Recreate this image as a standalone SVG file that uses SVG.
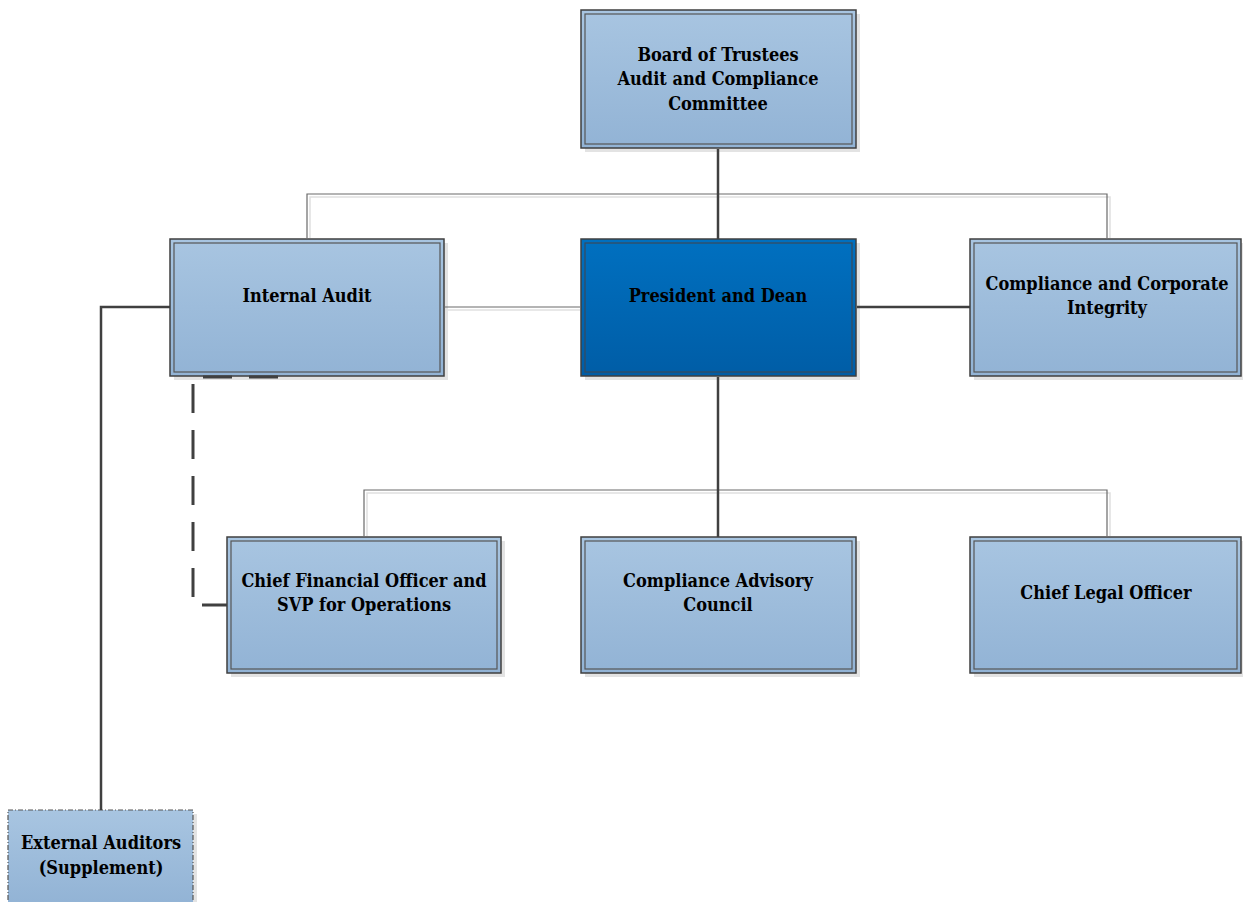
<svg xmlns="http://www.w3.org/2000/svg" width="1243" height="902" viewBox="0 0 1243 902">
<style>
.shadow{fill:#e3e3e3}
.box{fill:url(#lb);stroke:#3f3f3f;stroke-width:1.5}
.dbox{fill:url(#db);stroke:#3f3f3f;stroke-width:1.5}
.inner{fill:none;stroke:#555;stroke-width:1.2}
.t{font-family:"DejaVu Serif Condensed","DejaVu Serif","Liberation Serif",serif;font-stretch:condensed;font-weight:bold;font-size:18px;fill:#000;text-anchor:middle}
.thick{fill:none;stroke:#404040;stroke-width:2.5}
.thin{fill:none;stroke:#6a6a6a;stroke-width:1.2}
.thinsh{fill:none;stroke:#e0e0e0;stroke-width:1.5}
.dash{fill:none;stroke:#404040;stroke-width:3;stroke-dasharray:29 17}
</style>
<defs>
<linearGradient id="lb" x1="0" y1="0" x2="0" y2="1"><stop offset="0" stop-color="#a8c5e1"/><stop offset="1" stop-color="#92b3d5"/></linearGradient>
<linearGradient id="db" x1="0" y1="0" x2="0" y2="1"><stop offset="0" stop-color="#0070c0"/><stop offset="1" stop-color="#005da6"/></linearGradient>
</defs>
<rect width="1243" height="902" fill="#fff"/>
<g id="board">
<rect class="shadow" x="585" y="14" width="275" height="138"/>
<rect class="box" x="581" y="10" width="275" height="138"/>
<rect class="inner" x="585" y="14" width="267" height="130"/>
<text class="t" x="718" y="61">Board of Trustees</text>
<text class="t" x="718" y="85">Audit and Compliance</text>
<text class="t" x="718" y="110">Committee</text>
</g>
<g id="internal-audit">
<rect class="shadow" x="174" y="243" width="274" height="137"/>
<rect class="box" x="170" y="239" width="274" height="137"/>
<rect class="inner" x="174" y="243" width="266" height="129"/>
<text class="t" x="307" y="302">Internal Audit</text>
</g>
<g id="president">
<rect class="shadow" x="585" y="243" width="275" height="137"/>
<rect class="dbox" x="581" y="239" width="275" height="137"/>
<rect class="inner" x="585" y="243" width="267" height="129" style="stroke:#3a4a5a"/>
<text class="t" x="718" y="302">President and Dean</text>
</g>
<g id="compliance-corporate">
<rect class="shadow" x="974" y="243" width="271" height="137"/>
<rect class="box" x="970" y="239" width="271" height="137"/>
<rect class="inner" x="974" y="243" width="263" height="129"/>
<text class="t" x="1107" y="290">Compliance and Corporate</text>
<text class="t" x="1107" y="314">Integrity</text>
</g>
<g id="cfo">
<rect class="shadow" x="231" y="541" width="274" height="136"/>
<rect class="box" x="227" y="537" width="274" height="136"/>
<rect class="inner" x="231" y="541" width="266" height="128"/>
<text class="t" x="364" y="587">Chief Financial Officer and</text>
<text class="t" x="364" y="611">SVP for Operations</text>
</g>
<g id="advisory-council">
<rect class="shadow" x="585" y="541" width="275" height="136"/>
<rect class="box" x="581" y="537" width="275" height="136"/>
<rect class="inner" x="585" y="541" width="267" height="128"/>
<text class="t" x="718" y="587">Compliance Advisory</text>
<text class="t" x="718" y="611">Council</text>
</g>
<g id="chief-legal">
<rect class="shadow" x="974" y="541" width="271" height="136"/>
<rect class="box" x="970" y="537" width="271" height="136"/>
<rect class="inner" x="974" y="541" width="263" height="128"/>
<text class="t" x="1106" y="599">Chief Legal Officer</text>
</g>
<g id="external-auditors">
<rect class="shadow" x="12" y="814" width="185" height="92"/>
<rect x="8" y="810" width="185" height="95" fill="url(#lb)" stroke="#555" stroke-width="1.2" stroke-dasharray="5 2 1 2"/>
<text class="t" x="101" y="849">External Auditors</text>
<text class="t" x="101" y="874">(Supplement)</text>
</g>
<g id="connectors">
<path class="thinsh" d="M310 238V197H1110V238"/>
<path class="thin" d="M307 238V194H1107V238"/>
<path class="thinsh" d="M367 536V493H1110V536"/>
<path class="thin" d="M364 536V490H1107V536"/>
<path class="thinsh" d="M445 310H580"/>
<path class="thin" d="M445 307H580"/>
<path class="thick" d="M718 149V239"/>
<path class="thick" d="M718 377V537"/>
<path class="thick" d="M857 307H970"/>
<path class="thick" d="M170 307H101V810"/>
<path class="dash" d="M278 377H193V605H227"/>
</g>
</svg>
